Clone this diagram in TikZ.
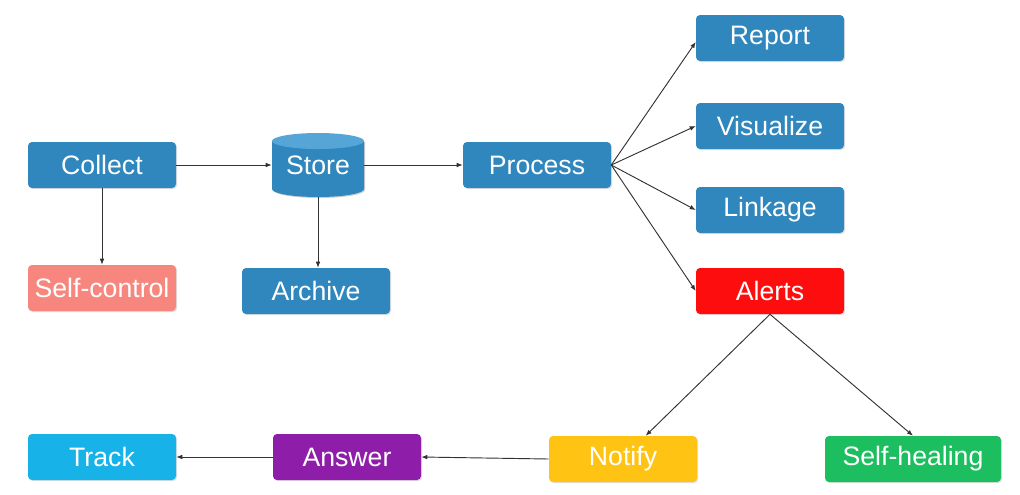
\documentclass[tikz,border=0pt]{standalone}
\usepackage{fontspec}
\setmainfont{Liberation Sans}
\usetikzlibrary{arrows.meta,shadows}
\definecolor{cblue}{HTML}{2F87BD}
\definecolor{cbluetop}{HTML}{55A6D6}
\definecolor{csalmon}{HTML}{F7877E}
\definecolor{cred}{HTML}{FD0D0D}
\definecolor{ccyan}{HTML}{17B3E8}
\definecolor{cpurple}{HTML}{8E1EA9}
\definecolor{cyellow}{HTML}{FFC314}
\definecolor{cgreen}{HTML}{1DBE5F}
\definecolor{cline}{HTML}{333333}
\tikzset{
  box/.style={rectangle, rounded corners=3pt, fill=#1, text=white,
    minimum width=111pt, minimum height=34.5pt, inner sep=0pt,
    font=\fontsize{20}{22}\selectfont,
    drop shadow={opacity=0.25, shadow xshift=0.8pt, shadow yshift=-0.8pt}},
  conn/.style={draw=cline, line width=0.7pt, -{Latex[length=4.5pt,width=3.5pt]}}
}
\begin{document}
\begin{tikzpicture}[x=0.75pt,y=-0.75pt]
\useasboundingbox (0,0) rectangle (1020,494);
% nodes
\node[box=cblue] (collect) at (102,165) {Collect};
\node[box=cblue] (process) at (537,165) {Process};
\node[box=cblue] (report) at (770,38) {Report};
\node[box=cblue] (visualize) at (770,126) {Visualize};
\node[box=cblue] (linkage) at (770,210) {Linkage};
\node[box=cred] (alerts) at (770,291) {Alerts};
\node[box=csalmon] (selfcontrol) at (102,288) {Self-control};
\node[box=cblue] (archive) at (316,291) {Archive};
\node[box=ccyan] (track) at (102,457) {Track};
\node[box=cpurple] (answer) at (347,457) {Answer};
\node[box=cyellow] (notify) at (623,459) {Notify};
\node[box=cgreen, minimum width=132pt] (selfhealing) at (913,459) {Self-healing};
% store cylinder
\fill[black, opacity=0.2] (273,142) -- (273,190) arc[start angle=180,end angle=360,x radius=46,y radius=-8] -- (365,142) -- cycle;
\fill[cblue] (272,141) -- (272,189) arc[start angle=180,end angle=360,x radius=46,y radius=-8] -- (364,141) -- cycle;
\fill[cbluetop] (318,141) ellipse[x radius=46,y radius=8];
\node[minimum width=69pt, minimum height=48pt, inner sep=0pt, text=white,
  font=\fontsize{20}{22}\selectfont] (store) at (318,165) {\raisebox{-3pt}{Store}};
% connectors
\draw[conn] (collect.east) -- (store.west);
\draw[conn] (store.east) -- (process.west);
\draw[conn] (collect.south) -- (selfcontrol.north);
\draw[conn] (store.south) -- (archive.north -| store.south);
\draw[conn] (process.east) -- ([yshift=-3pt]report.west);
\draw[conn] (process.east) -- (visualize.west);
\draw[conn] (process.east) -- (linkage.west);
\draw[conn] (process.east) -- (alerts.west);
\draw[conn] (alerts.south) -- ([xshift=17pt]notify.north);
\draw[conn] (alerts.south) -- (selfhealing.north);
\draw[conn] (notify.west) -- (answer.east);
\draw[conn] (answer.west) -- (track.east);
\end{tikzpicture}
\end{document}
